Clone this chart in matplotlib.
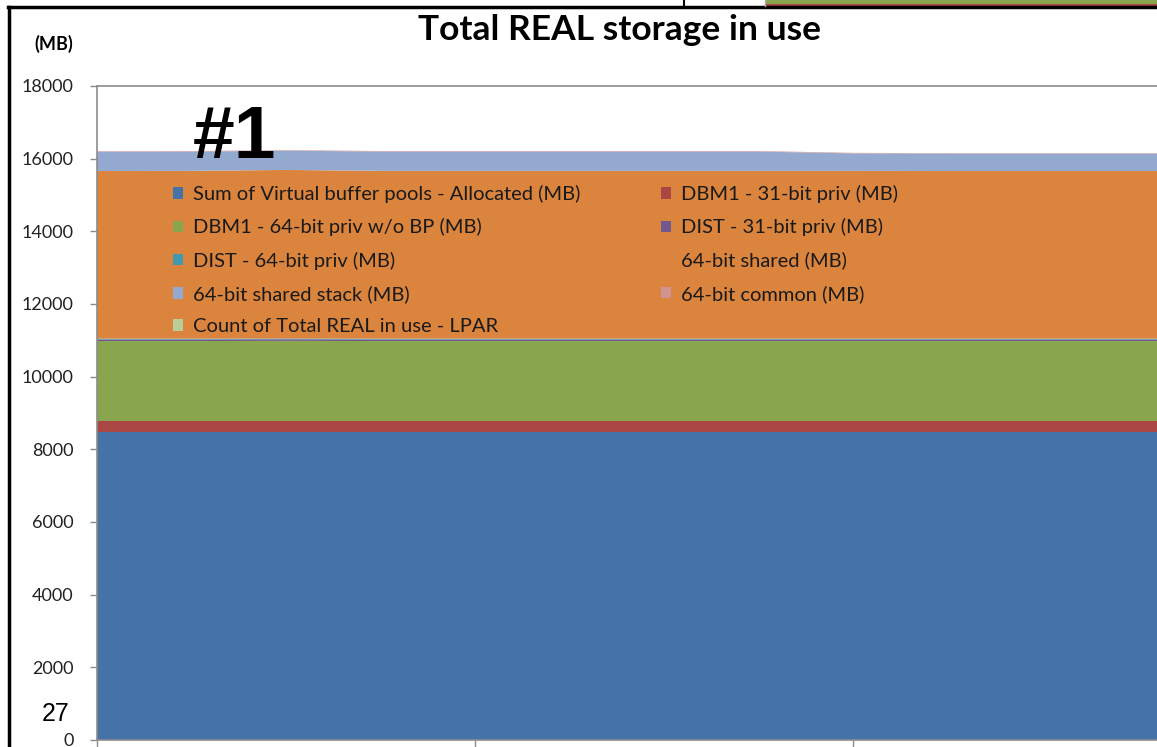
import matplotlib
matplotlib.use('Agg')
import matplotlib.pyplot as plt
from matplotlib.patches import Patch, Rectangle
from matplotlib.lines import Line2D
import numpy as np

W, H = 1157, 747

# samples along the category axis (ticks every 4 samples)
samples = [0, 1, 2, 3, 4, 5, 6, 7, 8, 9, 10, 11, 12]

virtual_bp = [8470, 8470, 8470, 8470, 8470, 8470, 8470, 8470, 8470, 8470, 8470, 8470, 8470]
dbm1_31 = [310, 310, 310, 310, 310, 310, 310, 310, 310, 310, 310, 310, 310]
dbm1_64 = [2200, 2200, 2205, 2200, 2200, 2200, 2200, 2200, 2200, 2200, 2200, 2200, 2200]
dist_31 = [45, 45, 45, 45, 45, 45, 45, 45, 45, 45, 45, 45, 45]
dist_64 = [20, 20, 20, 20, 20, 20, 20, 20, 20, 20, 20, 20, 20]
shared_64 = [4615, 4620, 4640, 4620, 4620, 4620, 4620, 4620, 4620, 4615, 4615, 4615, 4615]
shared_stack = [530, 530, 530, 530, 530, 530, 530, 530, 480, 475, 475, 475, 475]
common_64 = [15, 15, 15, 15, 15, 15, 15, 15, 15, 15, 15, 15, 15]

series_names = ['Sum of Virtual buffer pools - Allocated (MB)', 'DBM1 - 31-bit priv (MB)',
                'DBM1 - 64-bit priv w/o BP (MB)', 'DIST - 31-bit priv (MB)',
                'DIST - 64-bit priv (MB)', '64-bit shared (MB)',
                '64-bit shared stack (MB)', '64-bit common (MB)',
                'Count of Total REAL in use - LPAR']
colors = ['#4572A7', '#AA4643', '#89A54E', '#71588F', '#4198AF',
          '#DB843D', '#93A9CF', '#D19392', '#B9CD96']

y_ticks = [0, 2000, 4000, 6000, 8000, 10000, 12000, 14000, 16000, 18000]

GRAY = '#8c8c8c'


def fx(x):
    return x / W


def fy(y):
    return 1 - y / H


fig = plt.figure(figsize=(W / 100, H / 100), dpi=100)
ax = fig.add_axes([fx(97), fy(740), fx(1231) - fx(97), fy(86) - fy(740)])

ax.stackplot(samples, virtual_bp, dbm1_31, dbm1_64, dist_31, dist_64,
             shared_64, shared_stack, common_64,
             colors=colors[:8], linewidth=0)

ax.set_xlim(0, 12)
ax.set_ylim(0, 18000)
ax.set_yticks(y_ticks)
ax.set_yticklabels([str(v) for v in y_ticks], fontsize=13, family='Lato', color='#222222')
ax.set_xticks([0, 4, 8, 12])
ax.set_xticklabels([])
ax.tick_params(axis='y', length=5, width=1, color=GRAY, pad=12)
ax.tick_params(axis='x', length=6, width=1, color=GRAY)
for s in ax.spines.values():
    s.set_color(GRAY)
    s.set_linewidth(1.2)

# legend laid out like the Excel one (row-major -> column order here)
order = [0, 2, 4, 6, 8, 1, 3, 5, 7]
handles = [Patch(facecolor=colors[i], edgecolor='none') for i in order]
labels = [series_names[i] for i in order]
leg = fig.legend(handles, labels, loc='upper left', bbox_to_anchor=(fx(173), fy(185)),
                 ncol=2, frameon=False, prop={'family': 'Lato', 'size': 14.5},
                 handlelength=0.5, handleheight=0.5, handletextpad=0.5,
                 labelspacing=0.76, columnspacing=4.0, borderpad=0, borderaxespad=0)
for t in leg.get_texts():
    t.set_color('#1a1a1a')

fig.text(fx(619), fy(30), 'Total REAL storage in use', ha='center', va='center',
         fontsize=25.5, fontweight='bold', family='Lato')
fig.text(fx(54), fy(44), '(MB)', ha='center', va='center',
         fontsize=13, fontweight='bold', family='Lato')
fig.text(fx(235), fy(138), '#1', ha='center', va='center',
         fontsize=54, fontweight='bold', family='Liberation Sans')
fig.text(fx(56), fy(714), '27', ha='center', va='center',
         fontsize=18, family='Liberation Sans')

# slide frame and neighbouring picture strip
fig.add_artist(Line2D([fx(9), fx(9)], [fy(7), 0], color='black', lw=2.5))
fig.add_artist(Line2D([fx(8), 1], [fy(7), fy(7)], color='black', lw=2.5))
fig.add_artist(Line2D([fx(684), fx(684)], [fy(7), 1], color='black', lw=1.5))
fig.add_artist(Rectangle((fx(766), fy(5)), 1 - fx(766), fy(0) - fy(5),
                         facecolor='#89A54E', edgecolor='none'))
fig.add_artist(Rectangle((fx(766), fy(6)), 1 - fx(766), fy(4) - fy(6),
                         facecolor='#AA4643', edgecolor='none'))
fig.add_artist(Line2D([fx(765), fx(765)], [fy(6), 1], color='#aaaaaa', lw=1))

fig.savefig('out.png', dpi=100)
